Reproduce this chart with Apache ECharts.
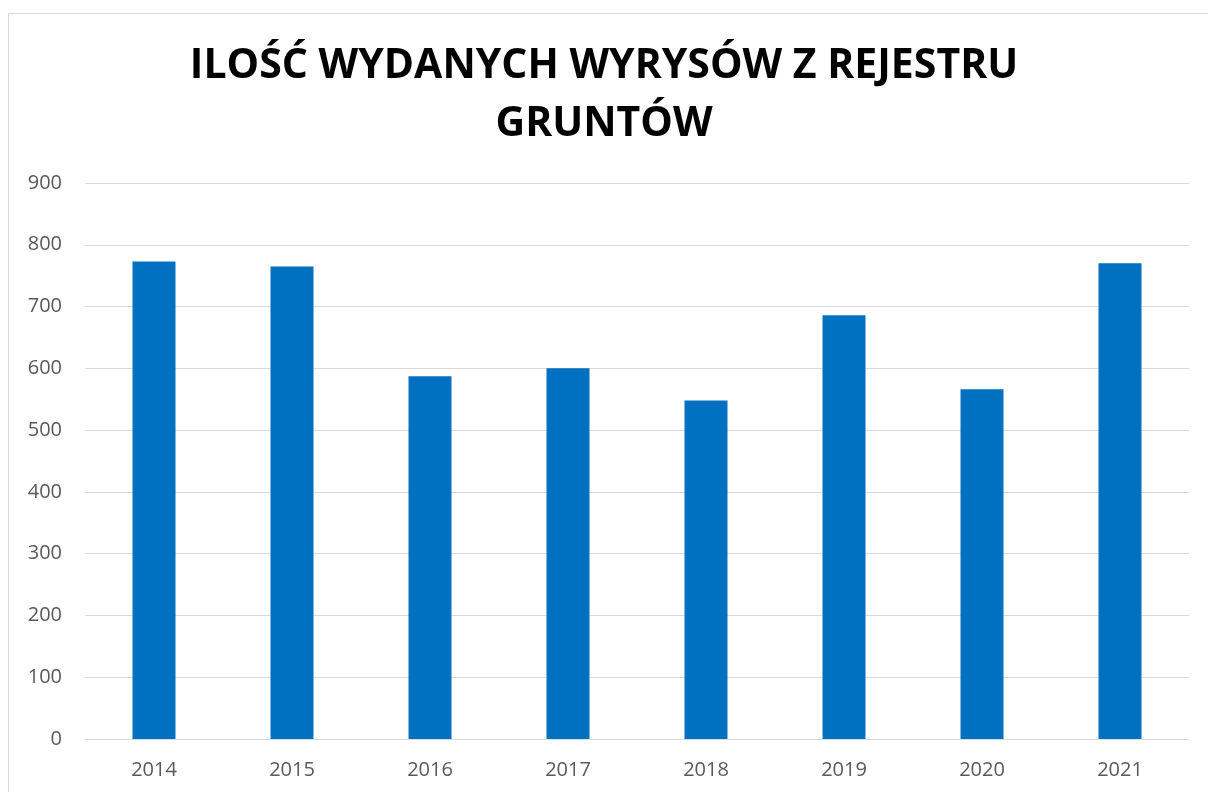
<!DOCTYPE html>
<html>
<head>
<meta charset="utf-8">
<script src="https://cdn.jsdelivr.net/npm/echarts@6/dist/echarts.min.js"></script>
<style>
    html, body { margin: 0; padding: 0; background: #ffffff; }
    #frame {
        position: absolute;
        left: 8px;
        top: 13px;
        width: 1220px;
        height: 800px;
        border: 1px solid #d9d9d9;
        box-sizing: border-box;
    }
    #chart { position: absolute; left: 0; top: 0; width: 1208px; height: 792px; }
</style>
</head>
<body>
<div id="frame"></div>
<div id="chart"></div>
<script>
    var titleText = 'ILOŚĆ WYDANYCH WYRYSÓW Z REJESTRU\nGRUNTÓW';
    var years = ['2014', '2015', '2016', '2017', '2018', '2019', '2020', '2021'];
    var issued = [773, 765, 587, 600, 548, 686, 566, 770];

    var chart = echarts.init(document.getElementById('chart'), null, { renderer: 'canvas' });

    chart.setOption({
        animation: false,
        title: {
            text: titleText,
            left: 'center',
            top: 32,
            textStyle: {
                fontFamily: 'Open Sans',
                fontWeight: 'bold',
                fontSize: 41,
                lineHeight: 58,
                color: '#000000'
            }
        },
        grid: {
            left: 85,
            right: 19,
            top: 183,
            bottom: 53,
            containLabel: false
        },
        xAxis: {
            type: 'category',
            data: years,
            axisLine: { lineStyle: { color: '#d9d9d9', width: 1 } },
            axisTick: { show: false },
            axisLabel: {
                color: '#595959',
                fontFamily: 'Open Sans',
                fontSize: 20,
                margin: 21
            }
        },
        yAxis: {
            type: 'value',
            min: 0,
            max: 900,
            interval: 100,
            axisLine: { show: false },
            axisTick: { show: false },
            axisLabel: {
                color: '#595959',
                fontFamily: 'Open Sans',
                fontSize: 20,
                margin: 23
            },
            splitLine: { lineStyle: { color: '#d9d9d9', width: 1 } }
        },
        series: [{
            type: 'bar',
            data: issued,
            barWidth: 43,
            itemStyle: { color: '#0070c0' }
        }]
    });
</script>
</body>
</html>
